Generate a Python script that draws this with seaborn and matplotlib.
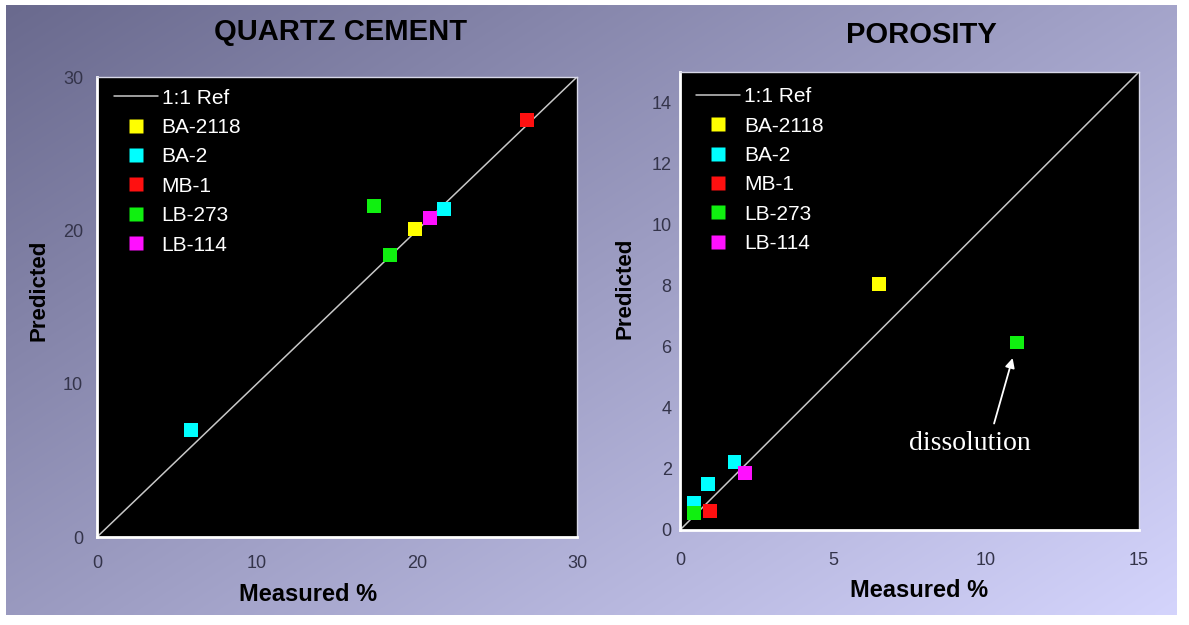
import numpy as np
import pandas as pd
import matplotlib
matplotlib.use("Agg")
import matplotlib.pyplot as plt
from matplotlib.lines import Line2D
import seaborn as sns

# ---------------- data ----------------
samples = ["BA-2118", "BA-2", "MB-1", "LB-273", "LB-114"]
colors = ["#ffff00", "#00ffff", "#ff1010", "#10f010", "#ff10ff"]

qc_sample = ["BA-2118", "BA-2", "BA-2", "MB-1", "LB-273", "LB-273", "LB-114"]
qc_measured = [19.9, 5.9, 21.7, 26.9, 17.3, 18.3, 20.8]
qc_predicted = [20.1, 7.0, 21.4, 27.2, 21.6, 18.4, 20.8]

po_sample = ["BA-2118", "BA-2", "BA-2", "BA-2", "MB-1", "LB-273", "LB-273", "LB-114"]
po_measured = [6.5, 1.78, 0.92, 0.47, 0.97, 11.0, 0.47, 2.11]
po_predicted = [8.05, 2.22, 1.51, 0.90, 0.63, 6.14, 0.55, 1.86]

qc_ref = [0, 30]
po_ref = [0, 15]
qc_ticks = [0, 10, 20, 30]
po_xticks = [0, 5, 10, 15]
po_yticks = [0, 2, 4, 6, 8, 10, 12, 14]

titles = ["QUARTZ CEMENT", "POROSITY"]

# ---------------- style ----------------
sns.set_style("white")
plt.rcParams["font.family"] = ["Liberation Sans", "DejaVu Sans"]

W, H = 1189, 625
fig = plt.figure(figsize=(W / 100, H / 100), dpi=100)
fig.patch.set_facecolor("white")

# background gradient
bg = fig.add_axes([0, 0, 1, 1], zorder=-10)
gx, gy = np.meshgrid(np.linspace(0, 1, 300), np.linspace(0, 1, 160))
t = np.clip(0.55 * gx + 0.45 * gy, 0, 1)
c0 = np.array([106, 106, 142]) / 255
c1 = np.array([212, 212, 252]) / 255
img = c0[None, None, :] * (1 - t[..., None]) + c1[None, None, :] * t[..., None]
bg.imshow(img, extent=[6, 1177, 615, 5], aspect="auto", interpolation="bilinear")
bg.set_xlim(0, W)
bg.set_ylim(H, 0)
bg.axis("off")

palette = dict(zip(samples, colors))

def make_panel(rect, meas, pred, samp, ref, xticks, yticks, lim, title, title_xy,
               ylab_xy, xlab_xy, leg_xy, xpad, ypad):
    ax = fig.add_axes(rect)
    ax.set_facecolor("black")
    sns.lineplot(x=ref, y=ref, ax=ax, color="#c8c8c8", lw=1.1, zorder=2)
    df = pd.DataFrame({"Measured": meas, "Predicted": pred, "Sample": samp})
    sns.scatterplot(data=df, x="Measured", y="Predicted", hue="Sample",
                    palette=palette, hue_order=samples, marker="s", s=100,
                    edgecolor="none", linewidth=0, legend=False, ax=ax, zorder=3)
    ax.set_xlim(lim[0], lim[1])
    ax.set_ylim(lim[0], lim[1])
    ax.set_xticks(xticks)
    ax.set_yticks(yticks)
    ax.tick_params(axis="both", which="major", colors="white", length=3, width=2,
                   direction="out", labelsize=13, labelcolor="#34344a")
    ax.tick_params(axis="x", pad=xpad)
    ax.tick_params(axis="y", pad=ypad)
    for side in ["left", "bottom"]:
        ax.spines[side].set_color("white")
        ax.spines[side].set_linewidth(2)
    for side in ["top", "right"]:
        ax.spines[side].set_color("#d8d8e8")
        ax.spines[side].set_linewidth(1)
    ax.set_xlabel("Measured %", fontsize=17, fontweight="bold", color="black")
    ax.set_ylabel("Predicted", fontsize=16, fontweight="bold", color="black")
    ax.xaxis.set_label_coords(*xlab_xy)
    ax.yaxis.set_label_coords(*ylab_xy)
    fig.text(title_xy[0], title_xy[1], title, ha="center", va="center",
             fontsize=21, fontweight="bold", color="black")
    handles = [Line2D([], [], color="#c8c8c8", lw=1.1)]
    labels = ["1:1 Ref"]
    for s_, c_ in zip(samples, colors):
        handles.append(Line2D([], [], ls="none", marker="s", markersize=9.5,
                              markerfacecolor=c_, markeredgecolor="none"))
        labels.append(s_)
    leg = ax.legend(handles, labels, loc="upper left", bbox_to_anchor=leg_xy,
                    frameon=False, fontsize=15, handlelength=2.1,
                    handletextpad=0.2, labelspacing=0.5, borderpad=0,
                    borderaxespad=0)
    for txt in leg.get_texts():
        txt.set_color("white")
    return ax

ax1 = make_panel([97 / W, 1 - 537 / H, 480 / W, 460 / H],
                 qc_measured, qc_predicted, qc_sample, qc_ref,
                 qc_ticks, qc_ticks, (0, 30), titles[0], (341 / W, 1 - 32 / H),
                 (-0.100, 0.537), (0.44, -0.10), (0.035, 0.975), 10, 7)

ax2 = make_panel([680 / W, 1 - 530 / H, 459 / W, 458 / H],
                 po_measured, po_predicted, po_sample, po_ref,
                 po_xticks, po_yticks, (0, 15), titles[1], (921 / W, 1 - 35 / H),
                 (-0.098, 0.528), (0.52, -0.108), (0.035, 0.967), 13, 3)

ax2.annotate("dissolution", xy=(10.87, 5.63), xytext=(9.48, 2.84),
             ha="center", va="center", color="white", fontsize=20,
             family=["Liberation Serif", "DejaVu Serif"],
             arrowprops=dict(arrowstyle="-|>", color="white", lw=1.3,
                             relpos=(0.68, 1.0), shrinkA=3, shrinkB=0,
                             mutation_scale=14))

fig.savefig("out.png", dpi=100, facecolor=fig.get_facecolor())
